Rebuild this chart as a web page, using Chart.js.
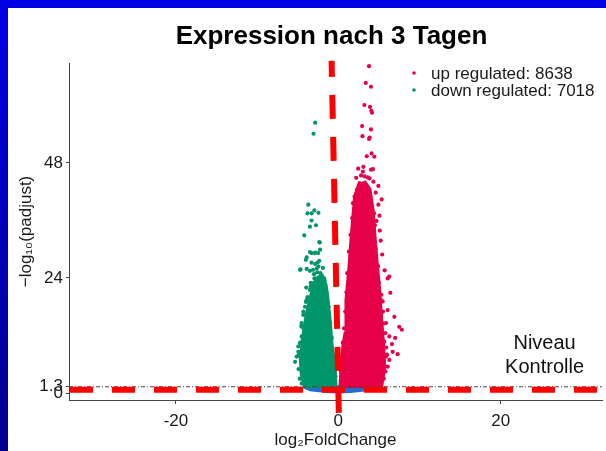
<!DOCTYPE html>
<html>
<head>
<meta charset="utf-8">
<script src="https://cdn.jsdelivr.net/npm/chart.js@4.4.1/dist/chart.umd.min.js"></script>
<style>
  body { margin: 0; }
  #frame { position: relative; width: 606px; height: 451px; overflow: hidden;
           background: linear-gradient(#0000e6, #00008e); }
  #volcano { position: absolute; left: 8px; top: 8px; background: #fff; }
</style>
</head>
<body>
<div id="frame"><canvas id="volcano" width="598" height="443"></canvas></div>
<script>
const groupLabels = ["up regulated", "down regulated"];
const groupCounts = [8638, 7018];
const xTicks = [-20, 0, 20];
const yTicks = [0, 1.3, 24, 48];
const padjCutoff = 1.3;

// single genes outside the dense cloud: [log2FoldChange, -log10(padj)]
const upPoints = [
  [3.78,68.2],[3.38,64.7],[4.02,63.9],[3.21,60.1],[3.9,59.7],[4.06,58.9],[4.15,58.5],
  [2.93,55.7],[4.02,55.0],[2.97,53.6],[3.86,53.3],[3.78,53.0],[4.1,50.0],[3.5,49.4],
  [4.43,49.3],[3.09,47.2],[2.44,46.8],[4.27,46.7],
  [3.02,46.2],[4.03,46.6],[3.22,45.2],[3.84,44.8],[4.32,44.1],[2.61,43.8],[3.43,43.4],
  [4.93,43.2],[2.29,42.4],[3.02,42.0],[2.61,41.3],[2.0,41.0],[3.63,41.0],[2.81,39.9],
  [5.34,40.4],[4.93,39.3],[1.8,39.6],[3.22,39.6],[2.2,38.2],[3.84,37.9],[2.69,37.5],
  [5.06,37.0],[2.0,36.1],[3.43,36.1],[4.24,35.4],[2.41,34.7],[3.63,34.0],[4.03,33.7],
  [1.88,33.3],[3.02,32.6],[5.22,31.8],[4.45,31.3],[2.41,30.5],[3.84,30.5],[2.0,29.2],
  [3.02,28.5],[4.24,28.1],[4.85,26.4],[3.42,25.7],[4.77,24.2],[6.28,24.3],[1.8,25.0],
  [2.61,24.3],
  [5.46,19.1],[5.26,16.6],[5.87,14.6],[7.5,13.8],[7.82,13.2],[5.06,12.5],[6.28,11.8],
  [5.67,10.7],[6.69,8.6],[5.87,7.6],[6.28,6.9],[7.3,8.1],[5.46,6.2],[6.08,5.5],
  [4.65,3.4],[5.46,4.4],[6.08,23.9],[4.65,24.3],[4.85,22.2],[5.26,19.4],[6.08,17.3],
  [4.6,30.0],[4.9,26.5],[5.0,23.0],[5.3,20.5],[5.5,17.0],[5.6,14.5],[5.8,12.5],
  [5.9,9.5],[6.0,8.0],[5.8,4.5],[5.6,3.0],[5.2,2.0],[4.5,35.0],[4.2,36.8],[4.0,38.5],
  [1.7,36.5],[1.5,33.0],[1.3,29.5],[1.1,25.0],[1.0,21.0],[0.85,17.0],[0.7,13.5],
  [0.55,10.5],[0.45,7.5],[0.35,4.5],[0.3,2.5],
  [2.3,40.5],[2.9,40.9],[3.4,40.3],[3.9,39.5],[2.6,42.8],[3.1,43.5],[3.7,42.6],
  [2.0,38.0],[4.4,37.5],[2.2,44.9],[2.8,45.4],[3.6,45.0],[4.6,41.8],[4.7,35.9],
  [5.1,33.9],[5.4,28.9],[5.7,25.6],[6.4,20.9],[6.9,15.9],[6.6,10.2],[7.0,11.5]
];
const downPoints = [
  [-2.85,56.4],[-3.06,54.1],
  [-3.7,39.3],[-3.8,37.5],[-2.95,38.1],[-3.3,37.5],[-2.45,37.6],[-3.3,36.0],[-2.75,35.0],
  [-3.5,34.7],[-4.2,32.9],[-2.35,31.5],[-2.28,31.4],[-3.5,29.4],[-2.8,29.3],[-2.25,29.9],
  [-3.3,29.2],[-2.9,29.2],[-2.48,29.2],[-3.9,28.3],[-4.0,27.8],[-3.3,27.2],[-2.55,27.2],
  [-2.85,26.9],[-4.65,25.8],[-4.72,25.7],[-3.9,25.9],[-3.5,25.5],[-3.1,25.7],[-2.65,26.0],
  [-2.45,26.4],[-2.95,23.9],[-2.45,23.9],[-1.75,23.9],[-2.08,23.9],[-2.48,23.6],
  [-3.09,22.9],[-3.5,21.5],[-3.91,19.4],[-4.11,18.0],[-4.32,16.3],[-4.52,13.8],
  [-4.93,9.7],[-5.33,6.5],[-4.72,7.6],[-4.11,10.4],[-4.52,11.8],
  [-5.13,7.6],[-4.93,8.6],[-4.72,10.4],[-4.52,14.6],[-4.23,13.2],
  [-4.3,17.0],[-4.55,14.0],[-4.7,10.5],[-4.85,8.0],[-4.9,5.0],[-4.75,3.0],[-4.5,2.0],
  [-3.8,20.0],[-3.4,22.3],[-4.0,19.0],
  [-0.35,3.5],[-0.55,7.5],[-0.8,11.5],[-1.0,14.5],[-1.2,18.0],[-1.45,21.0],[-1.7,23.5],
  [-2.2,25.0],[-2.6,25.2],[-3.0,24.8],[-1.9,26.1],[-2.35,27.6],[-3.4,23.0],[-3.95,22.0]
];

// outlines of the densely packed part of each group
const upCore = [
  [0.21,1.3],[0.33,5.43],[0.57,10.0],[0.82,12.5],[0.94,19.4],[1.31,26.3],[1.55,31.9],
  [1.75,36.0],[2.0,41.0],[2.5,43.5],[3.3,44.0],[3.9,42.5],[4.3,38.0],[4.5,33.0],
  [4.75,27.8],[5.09,21.5],[5.34,15.2],[5.58,10.0],[5.71,5.43],[5.34,1.3],[0.21,1.3]
];
const downCore = [
  [-0.28,1.3],[-0.4,5.43],[-0.77,10.0],[-1.01,15.2],[-1.26,19.4],[-1.5,22.5],[-1.99,24.6],
  [-2.73,24.0],[-3.22,21.5],[-3.7,18.4],[-4.07,15.2],[-4.44,11.1],[-4.68,6.9],
  [-4.56,3.76],[-4.19,1.3],[-0.28,1.3]
];
const nsCore = [
  [-4.3,1.3],[-3.5,0.7],[-1.5,0.3],[0,0.2],[1.5,0.3],[3.5,0.7],[4.6,1.3],[-4.3,1.3]
];

const UP = "#e6004a";
const DOWN = "#00966a";
const NS = "#1d6fd4";

const toXY = pts => pts.map(([x, y]) => ({ x, y }));

Chart.defaults.font.family = "'Liberation Sans', Arial, sans-serif";
Chart.defaults.font.size = 17;
Chart.defaults.color = "#1a1a1a";

function core(points, color, order) {
  return {
    type: "line",
    data: toXY(points),
    fill: "shape",
    backgroundColor: color,
    borderColor: color,
    borderWidth: 3,
    borderJoinStyle: "round",
    pointRadius: 0,
    tension: 0,
    order: order
  };
}

// cutoff line plus the red marker lines
const guides = {
  id: "guides",
  afterDatasetsDraw(chart) {
    const { ctx, chartArea, scales: { x, y } } = chart;
    ctx.save();
    const yc = y.getPixelForValue(padjCutoff);
    ctx.strokeStyle = "#444";
    ctx.lineWidth = 1;
    ctx.setLineDash([4, 2, 1, 2]);
    ctx.beginPath();
    ctx.moveTo(chartArea.left, yc);
    ctx.lineTo(chartArea.right, yc);
    ctx.stroke();

    ctx.strokeStyle = "#ff0000";
    ctx.lineWidth = 6;
    ctx.setLineDash([23, 19]);
    const yh = y.getPixelForValue(0.69);
    ctx.beginPath();
    ctx.moveTo(chartArea.left + 1, yh);
    ctx.lineTo(chartArea.right, yh);
    ctx.stroke();

    ctx.setLineDash([24, 18]);
    ctx.lineDashOffset = 8;
    ctx.beginPath();
    ctx.moveTo(x.getPixelForValue(-0.83), y.getPixelForValue(69.3));
    ctx.lineTo(x.getPixelForValue(0.06), y.getPixelForValue(-4.2));
    ctx.stroke();
    ctx.restore();
  }
};

// title over the panel, legend in the top right corner, note above the cutoff
const labels = {
  id: "labels",
  afterDraw(chart) {
    const { ctx, chartArea, scales: { x, y } } = chart;
    ctx.save();
    ctx.fillStyle = "#000";
    ctx.textAlign = "center";
    ctx.textBaseline = "middle";
    ctx.font = "bold 26px 'Liberation Sans', Arial, sans-serif";
    ctx.fillText("Expression nach 3 Tagen", (chartArea.left + chartArea.right) / 2 - 4, 29);

    ctx.font = "17px 'Liberation Sans', Arial, sans-serif";
    ctx.textAlign = "left";
    chart.data.datasets.filter(d => d.label).forEach((d, i) => {
      const cx = chartArea.right - 188;
      const cy = chartArea.top + 10 + i * 17;
      ctx.fillStyle = d.backgroundColor;
      ctx.beginPath();
      ctx.arc(cx, cy, 1.8, 0, Math.PI * 2);
      ctx.fill();
      ctx.fillStyle = "#1a1a1a";
      ctx.fillText(d.label, cx + 17, cy + 1);
    });

    ctx.font = "20px 'Liberation Sans', Arial, sans-serif";
    ctx.textAlign = "center";
    ctx.fillStyle = "#111";
    const nx = x.getPixelForValue(25.4);
    ctx.fillText("Niveau", nx, y.getPixelForValue(10.3));
    ctx.fillText("Kontrolle", nx, y.getPixelForValue(5.3));
    ctx.restore();
  }
};

new Chart(document.getElementById("volcano"), {
  type: "scatter",
  data: {
    datasets: [
      { label: groupLabels[0] + ": " + groupCounts[0], data: toXY(upPoints),
        backgroundColor: UP, pointRadius: 2.1, borderWidth: 0, order: 1 },
      { label: groupLabels[1] + ": " + groupCounts[1], data: toXY(downPoints),
        backgroundColor: DOWN, pointRadius: 2.1, borderWidth: 0, order: 1 },
      core(upCore, UP, 3),
      core(downCore, DOWN, 3),
      core(nsCore, NS, 4)
    ]
  },
  options: {
    responsive: false,
    animation: false,
    devicePixelRatio: 1,
    layout: { padding: { top: 55, left: 0, right: 0, bottom: 0 } },
    plugins: { legend: { display: false }, tooltip: { enabled: false } },
    scales: {
      x: {
        type: "linear",
        min: -33.17,
        max: 32.47,
        afterBuildTicks: s => { s.ticks = xTicks.map(v => ({ value: v })); },
        afterFit: s => { s.height = 51; },
        grid: { drawOnChartArea: false, tickLength: 4, color: "#444" },
        border: { color: "#444", width: 1 },
        ticks: { padding: 7, color: "#1a1a1a" },
        title: { display: true, text: "log\u2082FoldChange", padding: { top: 0, bottom: 0 }, color: "#1a1a1a" }
      },
      y: {
        type: "linear",
        min: -1.46,
        max: 68.86,
        afterBuildTicks: s => { s.ticks = yTicks.map(v => ({ value: v })); },
        afterFit: s => { s.width = 61; },
        grid: { drawOnChartArea: false, tickLength: 3, color: "#444" },
        border: { color: "#444", width: 1 },
        ticks: { padding: 3, color: "#1a1a1a", callback: v => String(v) },
        title: { display: true, text: "\u2212log\u2081\u2080(padjust)", padding: { top: 8, bottom: 0 }, color: "#1a1a1a" }
      }
    }
  },
  plugins: [guides, labels]
});
</script>
</body>
</html>
